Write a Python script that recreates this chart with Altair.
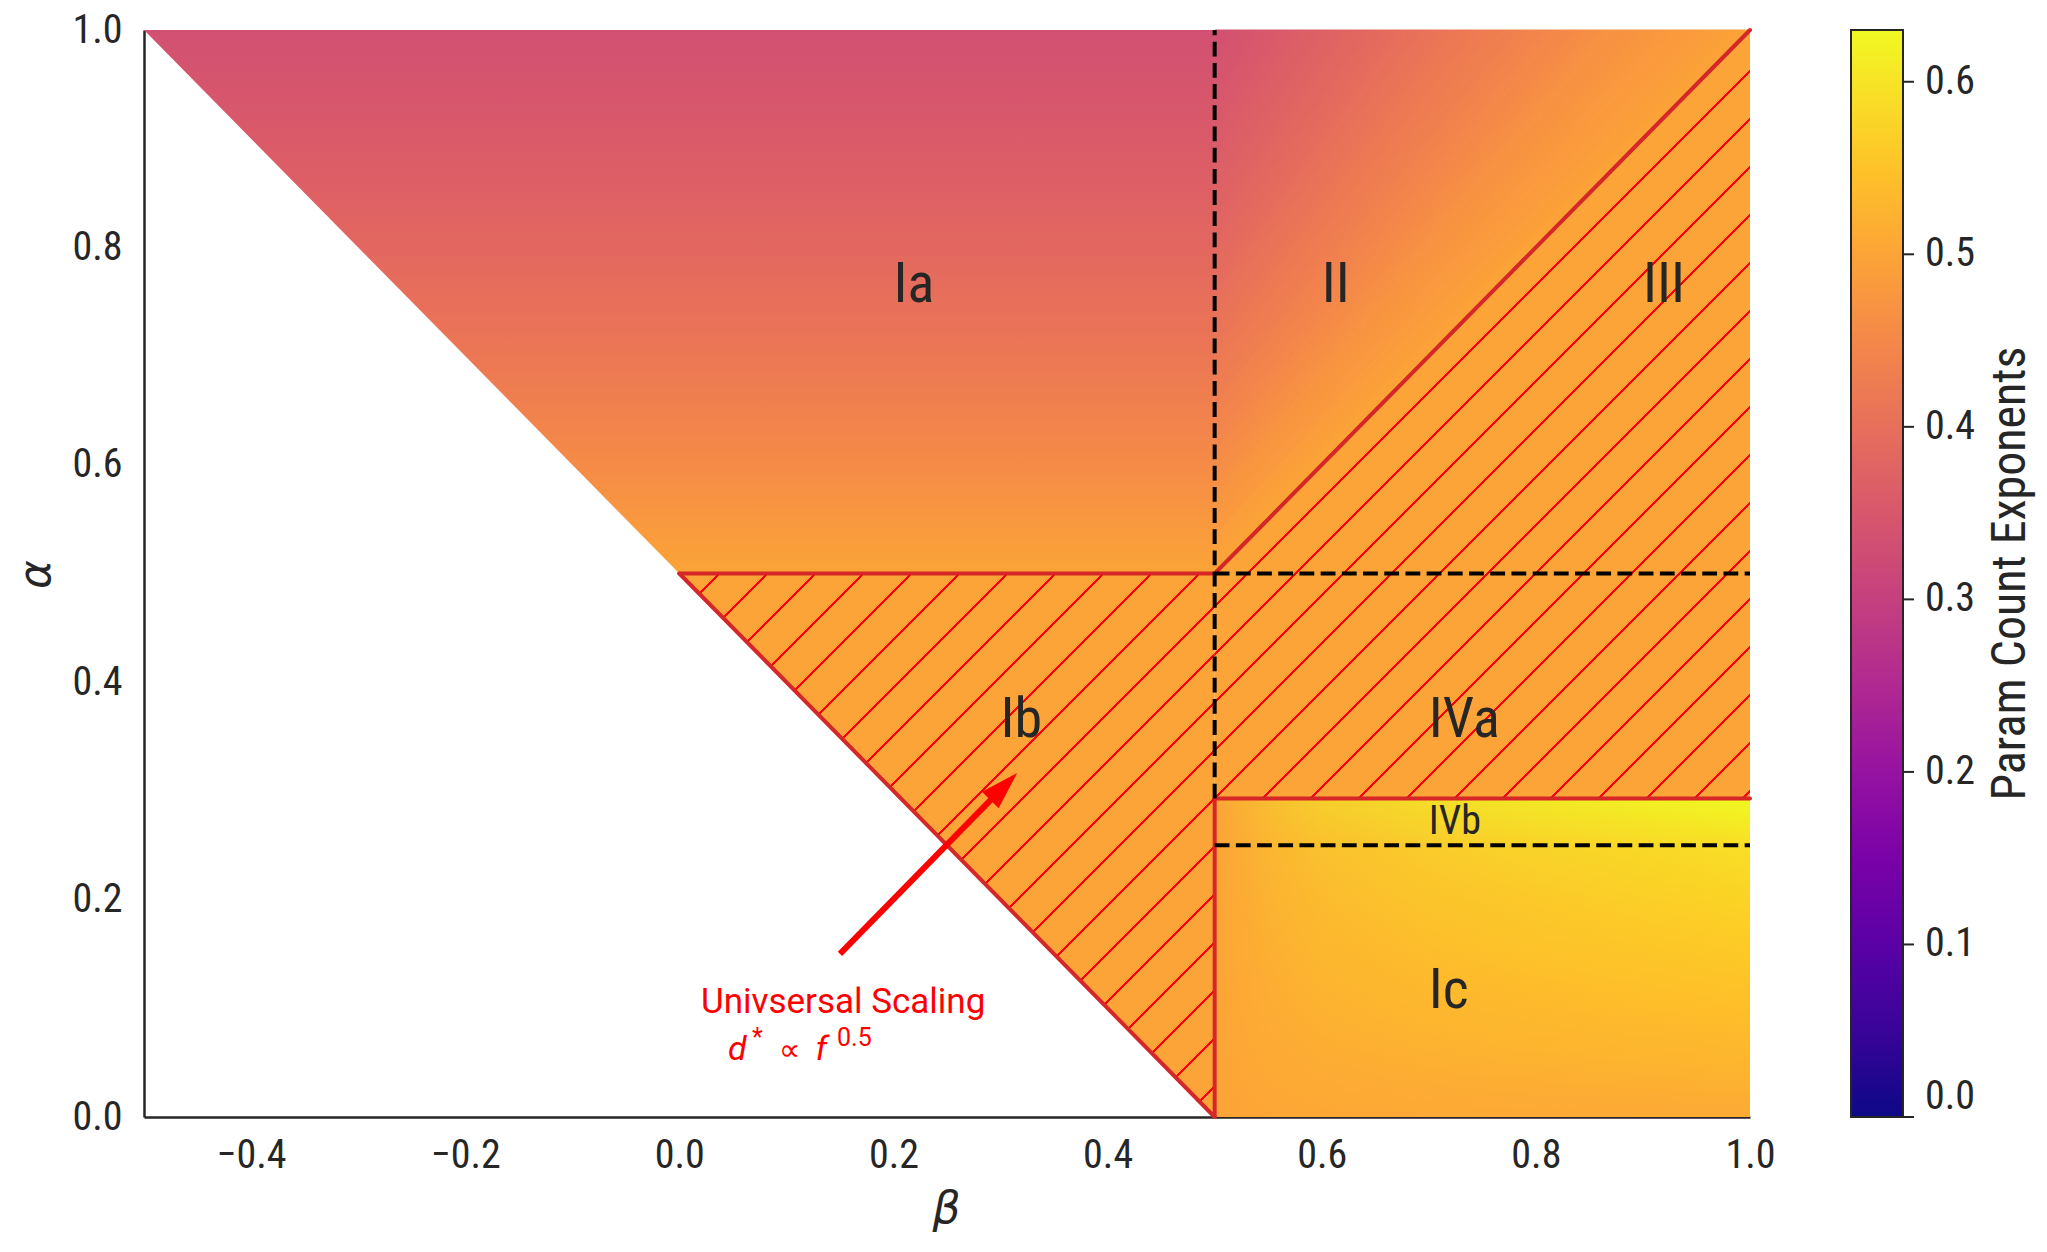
import math
import altair as alt
import pandas as pd

# ---------------------------------------------------------------- axes
BETA_DOMAIN = [-0.5, 1.0]
ALPHA_DOMAIN = [0.0, 1.0]
EXP_DOMAIN = [0.0, 0.63]

X_TICKS = [-0.4, -0.2, 0.0, 0.2, 0.4, 0.6, 0.8, 1.0]
Y_TICKS = [0.0, 0.2, 0.4, 0.6, 0.8, 1.0]
CBAR_TICKS = [0.0, 0.1, 0.2, 0.3, 0.4, 0.5, 0.6]
CBAR_TITLE = "Param Count Exponents"

# ---------------------------------------------------------------- phase boundaries
ALPHA_IVB = 0.293   # IVa / IVb border
ALPHA_IC = 0.25     # IVb / Ic border

# Phase Ia (beta, lower alpha, upper alpha)
IA_BETA = [-0.5, 0.0, 0.5]
IA_LO = [1.0, 0.5, 0.5]
IA_HI = [1.0, 1.0, 1.0]
# exponent down through Ia
IA_ALPHA = [1.0, 0.9, 0.8, 0.7, 0.6, 0.5]
IA_EXP = [0.333, 0.357, 0.385, 0.417, 0.455, 0.5]

# Phase II: exponent contours, each a straight run from the beta = 0.5 edge
# (at II_LEFT_ALPHA) to the alpha = 1 edge (at II_TOP_BETA); the last one is
# the alpha = beta border
II_LEVELS = [0.333, 0.350, 0.367, 0.383, 0.400, 0.417, 0.433, 0.450, 0.467, 0.483, 0.500]
II_LEFT_ALPHA = [1.0, 0.929, 0.864, 0.804, 0.750, 0.700, 0.654, 0.611, 0.571, 0.534, 0.500]
II_TOP_BETA = [0.5, 0.545, 0.590, 0.635, 0.680, 0.725, 0.770, 0.820, 0.870, 0.930, 1.000]

# hatched phases Ib and III + IVa
HATCH_EXP = 0.5
IB_BETA = [0.0, 0.5]
IB_LO = [0.5, 0.0]
IB_HI = [0.5, 0.5]
III_BETA = [0.5, 1.0]
III_LO = [ALPHA_IVB, ALPHA_IVB]
III_HI = [0.5, 1.0]

# Phases Ic + IVb
IC_BETA = [0.5, 1.0]
IC_LO = [0.0, 0.0]
IC_HI = [ALPHA_IVB, ALPHA_IVB]
# exponent up the right-hand edge (beta = 1)
IC_ALPHA = [0.0, 0.05, 0.10, 0.15, 0.20, 0.25, ALPHA_IVB]
IC_EDGE_EXP = [0.510, 0.528, 0.545, 0.560, 0.575, 0.593, 0.630]
# towards beta = 0.5 the exponent falls back to the left-edge value
IC_LEFT_EXP = 0.5
IC_FADE_BETA = [0.5, 0.55, 0.6, 0.7, 0.8, 0.9, 1.0]
IC_FADE_SHARE = [1.0, 0.70, 0.50, 0.32, 0.20, 0.10, 0.0]

# boundaries (beta1, alpha1, beta2, alpha2)
RED_B1 = [0.0, 0.0, 0.5, 0.5, 0.5]
RED_A1 = [0.5, 0.5, 0.5, ALPHA_IVB, 0.0]
RED_B2 = [0.5, 0.5, 1.0, 1.0, 0.5]
RED_A2 = [0.5, 0.0, 1.0, ALPHA_IVB, ALPHA_IVB]

DASH_B1 = [0.5, 0.5, 0.5]
DASH_A1 = [ALPHA_IVB, 0.5, ALPHA_IC]
DASH_B2 = [0.5, 1.0, 1.0]
DASH_A2 = [1.0, 0.5, ALPHA_IC]

# phase names
LABELS = ["Ia", "II", "III", "Ib", "IVa", "Ic"]
LABEL_BETA = [0.2, 0.6, 0.9, 0.3, 0.7, 0.7]
LABEL_ALPHA = [0.75, 0.75, 0.75, 0.35, 0.35, 0.1]
SMALL_LABELS = ["IVb"]
SMALL_LABEL_BETA = [0.7]
SMALL_LABEL_ALPHA = [0.26]

# annotation
ARROW_FROM = (0.15, 0.15)
ARROW_TO = (0.303, 0.304)
NOTE_TEXT = ["Univsersal Scaling"]
NOTE_BETA = [0.153]
NOTE_ALPHA = [0.0954]
MATH_ITALIC = ["d", "f"]
MATH_ITALIC_BETA = [0.0455, 0.1272]
MATH_UPRIGHT = ["\u221d"]
MATH_UPRIGHT_BETA = [0.0931]
MATH_ALPHA = 0.0524
MATH_SUP = ["*", "0.5"]
MATH_SUP_BETA = [0.0679, 0.1473]
MATH_SUP_ALPHA = 0.0653

# ---------------------------------------------------------------- layout / style
PX0, PY0, PW, PH = 144, 30, 1606, 1087
FONT = "Roboto Condensed, Roboto"
MATH_FONT = "DejaVu Sans"
INK = "#262626"
EDGE_RED = "#d62728"
HATCH_RED = "#ff0000"
CLEAR = "rgba(255,0,0,0)"
HATCH_PERIOD = 48.0
HATCH_PHASE = 45.0
HATCH_WIDTH = 2.2
CBAR_OFFSET = 101
CBAR_THICK = 52
CBAR_TITLE_X = 1867


def px(b):
    return PX0 + (b - BETA_DOMAIN[0]) / (BETA_DOMAIN[1] - BETA_DOMAIN[0]) * PW


def py(a):
    return PY0 + (ALPHA_DOMAIN[1] - a) / (ALPHA_DOMAIN[1] - ALPHA_DOMAIN[0]) * PH


def gradient(x1, y1, x2, y2, stops):
    body = ",".join("{offset:%s,color:%s}" % (o if isinstance(o, str) else round(o, 5), c) for o, c in stops)
    return {"expr": "{gradient:'linear',x1:%s,y1:%s,x2:%s,y2:%s,stops:[%s]}" % (x1, y1, x2, y2, body)}


def exp_color(v):
    return "scale('color',%s)" % v


def exp_color_faded(v, share):
    return "replace(replace(scale('color',%s),'rgb(','rgba('),')',',%s)')" % (v, share)


def hatch(b0, b1, a0, a1):
    """Thin '/' stripes over the bounding box, aligned to one page-wide grid."""
    x0, x1 = px(b0), px(b1)
    y0, y1 = py(a1), py(a0)
    w, h = x1 - x0, y1 - y0
    s0, span = x0 + y0, w + h
    c = span / (w * w + h * h)
    stops = []
    k = math.floor((s0 - HATCH_PHASE) / HATCH_PERIOD) - 1
    while True:
        s = HATCH_PHASE + k * HATCH_PERIOD
        ta = (s - HATCH_WIDTH / 2 - s0) / span
        tb = (s + HATCH_WIDTH / 2 - s0) / span
        if ta > 1:
            break
        if tb > 0:
            ta, tb = max(ta, 0.0), min(tb, 1.0)
            stops += [(ta, "'%s'" % CLEAR), (ta, "'%s'" % HATCH_RED),
                      (tb, "'%s'" % HATCH_RED), (tb, "'%s'" % CLEAR)]
        k += 1
    return gradient(0, 0, round(c * w, 6), round(c * h, 6), stops)


XS = alt.Scale(domain=BETA_DOMAIN, nice=False, zero=False)
YS = alt.Scale(domain=ALPHA_DOMAIN, nice=False, zero=False)
CS = alt.Scale(scheme="plasma", domain=EXP_DOMAIN, nice=False, zero=False)

XAX = alt.Axis(values=X_TICKS, format=".1f", title="\u03b2", ticks=False, tickSize=0, grid=False,
               domainColor=INK, domainWidth=2.5, labelFont=FONT, labelFontSize=40, labelColor=INK,
               labelPadding=18, labelFlush=False, titleFont=MATH_FONT, titleFontStyle="italic",
               titleFontWeight="normal", titleFontSize=44, titleColor=INK, titleX=802, titleY=92,
               titleBaseline="middle", titleAlign="center")
YAX = alt.Axis(values=Y_TICKS, format=".1f", title="\u03b1", ticks=False, tickSize=0, grid=False,
               domainColor=INK, domainWidth=2.5, labelFont=FONT, labelFontSize=40, labelColor=INK,
               labelPadding=22, labelFlush=False, titleFont=MATH_FONT, titleFontStyle="italic",
               titleFontWeight="normal", titleFontSize=44, titleColor=INK, titleX=-108, titleY=544,
               titleAngle=270, titleBaseline="middle", titleAlign="center")

# colour bar pinned right of the plot, level with its top
LEG = alt.Legend(title=None, type="gradient", direction="vertical", orient="none",
                 legendX=PW + CBAR_OFFSET, legendY=0, padding=0, values=CBAR_TICKS, format=".1f",
                 gradientLength=PH, gradientThickness=CBAR_THICK, gradientStrokeColor=INK,
                 gradientStrokeWidth=2, labelFont=FONT, labelFontSize=40, labelColor=INK,
                 labelOffset=22, labelBaseline="middle")


def X(f):
    return alt.X(f, type="quantitative", scale=XS, axis=XAX)


def Y(f):
    return alt.Y(f, type="quantitative", scale=YS, axis=YAX)


def region(beta, lo, hi):
    return pd.DataFrame({"beta": beta, "lo": lo, "hi": hi})


# ---------------------------------------------------------------- phase Ia
ia_stops = [((1.0 - a) / 0.5, exp_color(v)) for a, v in zip(IA_ALPHA, IA_EXP)]
ia = alt.Chart(region(IA_BETA, IA_LO, IA_HI)).mark_area(fill=gradient(1, 0, 1, 1, ia_stops)).encode(
    x=X("beta"), y=Y("lo"), y2="hi")

# ---------------------------------------------------------------- phase II
# one closed band between each pair of neighbouring contours, shaded from
# the upper contour's exponent to the lower one's
ii_rows = []
for k in range(len(II_LEVELS) - 1):
    a_top, a_bot = II_LEFT_ALPHA[k], II_LEFT_ALPHA[k + 1]
    b_top, b_bot = II_TOP_BETA[k], II_TOP_BETA[k + 1]
    # where the upper contour sits inside the band's box (0..1 along beta and down alpha)
    u = (b_top - 0.5) / (b_bot - 0.5)
    s = (1.0 - a_top) / (1.0 - a_bot)
    corners = [(0.5, a_top), (b_top, 1.0), (b_bot, 1.0), (0.5, a_bot)]
    for i, (b, a) in enumerate(corners):
        ii_rows.append({"band": k, "i": i, "beta": b, "alpha": a,
                        "v0": II_LEVELS[k], "v1": II_LEVELS[k + 1], "t0": round((u + s) / 2, 5)})
ii_df = pd.DataFrame(ii_rows)
ii_fill = gradient(0, 0, 0.5, 0.5, [(0, "scale('color',datum.v0)"),
                                    ("datum.t0", "scale('color',datum.v0)"),
                                    (1, "scale('color',datum.v1)")])
ii = alt.Chart(ii_df).mark_line(interpolate="linear-closed", fill=ii_fill, stroke=ii_fill,
                                strokeWidth=1, strokeJoin="round").encode(
    x=X("beta"), y=Y("alpha"), detail="band:N", order="i:Q")

# ---------------------------------------------------------------- phases Ic + IVb
ic_df = region(IC_BETA, IC_LO, IC_HI)
ic_stops = [(a / ALPHA_IVB, exp_color(v)) for a, v in zip(IC_ALPHA, IC_EDGE_EXP)]
ic = alt.Chart(ic_df).mark_area(fill=gradient(1, 1, 1, 0, ic_stops)).encode(
    x=X("beta"), y=Y("lo"), y2="hi")
fade_stops = [((b - 0.5) / 0.5, exp_color_faded(IC_LEFT_EXP, s))
              for b, s in zip(IC_FADE_BETA, IC_FADE_SHARE)]
ic_fade = alt.Chart(ic_df).mark_area(fill=gradient(0, 0, 1, 0, fade_stops)).encode(
    x=X("beta"), y=Y("lo"), y2="hi")

# ---------------------------------------------------------------- hatched phases
hatch_df = pd.DataFrame({
    "region": ["Ib"] * 2 + ["III"] * 2,
    "beta": IB_BETA + III_BETA,
    "lo": IB_LO + III_LO,
    "hi": IB_HI + III_HI,
    "exponent": [HATCH_EXP] * 4,
})
hatched = alt.Chart(hatch_df).mark_area().encode(
    x=X("beta"), y=Y("lo"), y2="hi",
    color=alt.Color("exponent:Q", scale=CS, legend=LEG),
    detail="region:N")

ib_hatch = alt.Chart(region(IB_BETA, IB_LO, IB_HI)).mark_area(fill=hatch(0.0, 0.5, 0.0, 0.5)).encode(
    x=X("beta"), y=Y("lo"), y2="hi")
iii_hatch = alt.Chart(region(III_BETA, III_LO, III_HI)).mark_area(
    fill=hatch(0.5, 1.0, ALPHA_IVB, 1.0)).encode(x=X("beta"), y=Y("lo"), y2="hi")

# ---------------------------------------------------------------- boundaries
red_df = pd.DataFrame({"b1": RED_B1, "a1": RED_A1, "b2": RED_B2, "a2": RED_A2})
red = alt.Chart(red_df).mark_rule(color=EDGE_RED, strokeWidth=4, strokeCap="round").encode(
    x=X("b1"), y=Y("a1"), x2="b2", y2="a2")
dash_df = pd.DataFrame({"b1": DASH_B1, "a1": DASH_A1, "b2": DASH_B2, "a2": DASH_A2})
dashed = alt.Chart(dash_df).mark_rule(color="black", strokeWidth=4, strokeDash=[14.8, 6.4]).encode(
    x=X("b1"), y=Y("a1"), x2="b2", y2="a2")

# ---------------------------------------------------------------- labels
lab_df = pd.DataFrame({"t": LABELS, "beta": LABEL_BETA, "alpha": LABEL_ALPHA})
labels = alt.Chart(lab_df).mark_text(font=FONT, fontSize=56, color=INK, align="left",
                                      baseline="alphabetic").encode(x=X("beta"), y=Y("alpha"), text="t")
slab_df = pd.DataFrame({"t": SMALL_LABELS, "beta": SMALL_LABEL_BETA, "alpha": SMALL_LABEL_ALPHA})
small_labels = alt.Chart(slab_df).mark_text(font=FONT, fontSize=40, color=INK, align="left",
                                             baseline="alphabetic").encode(x=X("beta"), y=Y("alpha"), text="t")

# ---------------------------------------------------------------- annotation
arrow_df = pd.DataFrame({"b1": [ARROW_FROM[0]], "a1": [ARROW_FROM[1]],
                         "b2": [ARROW_TO[0]], "a2": [ARROW_TO[1]]})
shaft = alt.Chart(arrow_df).mark_rule(color=HATCH_RED, strokeWidth=6).encode(
    x=X("b1"), y=Y("a1"), x2="b2", y2="a2")
head = alt.Chart(arrow_df).mark_point(shape="M0,-1L0.62,1L-0.62,1Z", size=1444, angle=45, filled=True,
                                      color=HATCH_RED, opacity=1, strokeWidth=0).encode(
    x=X("b2"), y=Y("a2"))

note_df = pd.DataFrame({"t": NOTE_TEXT, "beta": NOTE_BETA, "alpha": NOTE_ALPHA})
note = alt.Chart(note_df).mark_text(font="Roboto", fontSize=35, color=HATCH_RED, align="center",
                                    baseline="alphabetic").encode(x=X("beta"), y=Y("alpha"), text="t")
mi_df = pd.DataFrame({"t": MATH_ITALIC, "beta": MATH_ITALIC_BETA, "alpha": [MATH_ALPHA] * len(MATH_ITALIC)})
math_it = alt.Chart(mi_df).mark_text(font="Roboto", fontStyle="italic", fontSize=34, color=HATCH_RED,
                                     align="left", baseline="alphabetic").encode(
    x=X("beta"), y=Y("alpha"), text="t")
mu_df = pd.DataFrame({"t": MATH_UPRIGHT, "beta": MATH_UPRIGHT_BETA, "alpha": [MATH_ALPHA] * len(MATH_UPRIGHT)})
math_up = alt.Chart(mu_df).mark_text(font=MATH_FONT, fontSize=30, color=HATCH_RED,
                                     align="left", baseline="alphabetic").encode(
    x=X("beta"), y=Y("alpha"), text="t")
ms_df = pd.DataFrame({"t": MATH_SUP, "beta": MATH_SUP_BETA, "alpha": [MATH_SUP_ALPHA] * len(MATH_SUP)})
math_sup = alt.Chart(ms_df).mark_text(font="Roboto", fontSize=25, color=HATCH_RED,
                                      align="left", baseline="alphabetic").encode(
    x=X("beta"), y=Y("alpha"), text="t")

# colour-bar title, running up the right-hand side
cbar_title = alt.Chart(pd.DataFrame({"t": [CBAR_TITLE]})).mark_text(
    font=FONT, fontSize=48, color=INK, angle=270, align="center", baseline="middle").encode(
    x=alt.value(CBAR_TITLE_X), y=alt.value(PH / 2), text="t")

main = alt.layer(ia, ii, ic, ic_fade, hatched, ib_hatch, iii_hatch, red, dashed, labels, small_labels,
                 shaft, head, note, math_it, math_up, math_sup, cbar_title)

# ---------------------------------------------------------------- colour-bar ticks
tick_df = pd.DataFrame({"v": CBAR_TICKS})
cbar_x = PW + CBAR_OFFSET + CBAR_THICK
cbar_ticks = alt.Chart(tick_df).mark_rule(color=INK, strokeWidth=2).encode(
    x=alt.value(cbar_x), x2=alt.value(cbar_x + 11),
    y=alt.Y("v:Q", scale=alt.Scale(domain=EXP_DOMAIN, nice=False, zero=False), axis=None))

chart = alt.layer(main, cbar_ticks).resolve_scale(y="independent").properties(
    width=PW, height=PH,
    autosize=alt.AutoSizeParams(type="none"),
    padding={"left": PX0, "top": PY0, "right": 2047 - PX0 - PW, "bottom": 1252 - PY0 - PH},
    background="white",
).configure_view(stroke=None)

chart.save("out.html", embed_options={"renderer": "svg", "actions": False})
